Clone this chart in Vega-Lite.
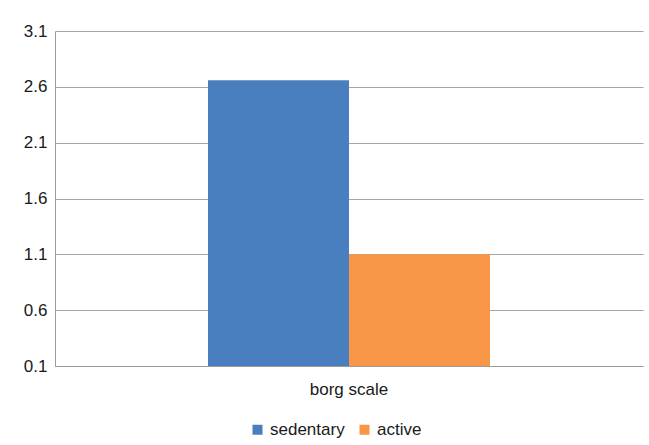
{
  "$schema": "https://vega.github.io/schema/vega-lite/v6.json",
  "autosize": "none",
  "width": 588,
  "height": 335,
  "padding": {"left": 55, "top": 31, "right": 6, "bottom": 79},
  "background": "white",
  "config": {
    "view": {"stroke": null},
    "font": "Liberation Sans",
    "axis": {"labelFont": "Liberation Sans", "labelFontSize": 17, "labelColor": "#1a1a1a", "domainColor": "#9a9a9a", "gridColor": "#a6a6a6", "ticks": false},
    "legend": {"labelFont": "Liberation Sans", "labelFontSize": 17, "labelColor": "#1a1a1a"}
  },
  "data": {
    "values": [
      {"category": "borg scale", "group": "sedentary", "value": 2.66},
      {"category": "borg scale", "group": "active", "value": 1.1}
    ]
  },
  "mark": {"type": "bar"},
  "encoding": {
    "x": {
      "field": "category", "type": "nominal",
      "scale": {"paddingInner": 0, "paddingOuter": 0.5426},
      "axis": {"title": null, "labelAngle": 0, "labelPadding": 15, "grid": false, "domainColor": "#9a9a9a"}
    },
    "xOffset": {"field": "group", "type": "nominal", "sort": ["sedentary", "active"], "scale": {"paddingInner": 0, "paddingOuter": 0}},
    "y": {
      "field": "value", "type": "quantitative",
      "scale": {"domain": [0.1, 3.1], "zero": false, "nice": false},
      "axis": {"title": null, "values": [0.1, 0.6, 1.1, 1.6, 2.1, 2.6, 3.1], "format": ".1f", "labelPadding": 8, "grid": true, "domain": true}
    },
    "y2": {"datum": 0.1},
    "color": {
      "field": "group", "type": "nominal",
      "scale": {"domain": ["sedentary", "active"], "range": ["#4a7fbf", "#f79646"]},
      "legend": {"title": null, "orient": "none", "direction": "horizontal", "legendX": 194, "legendY": 390, "symbolType": "square", "symbolSize": 100, "symbolStrokeWidth": 0, "symbolOpacity": 1, "columnPadding": 11, "labelOffset": 4}
    }
  }
}
